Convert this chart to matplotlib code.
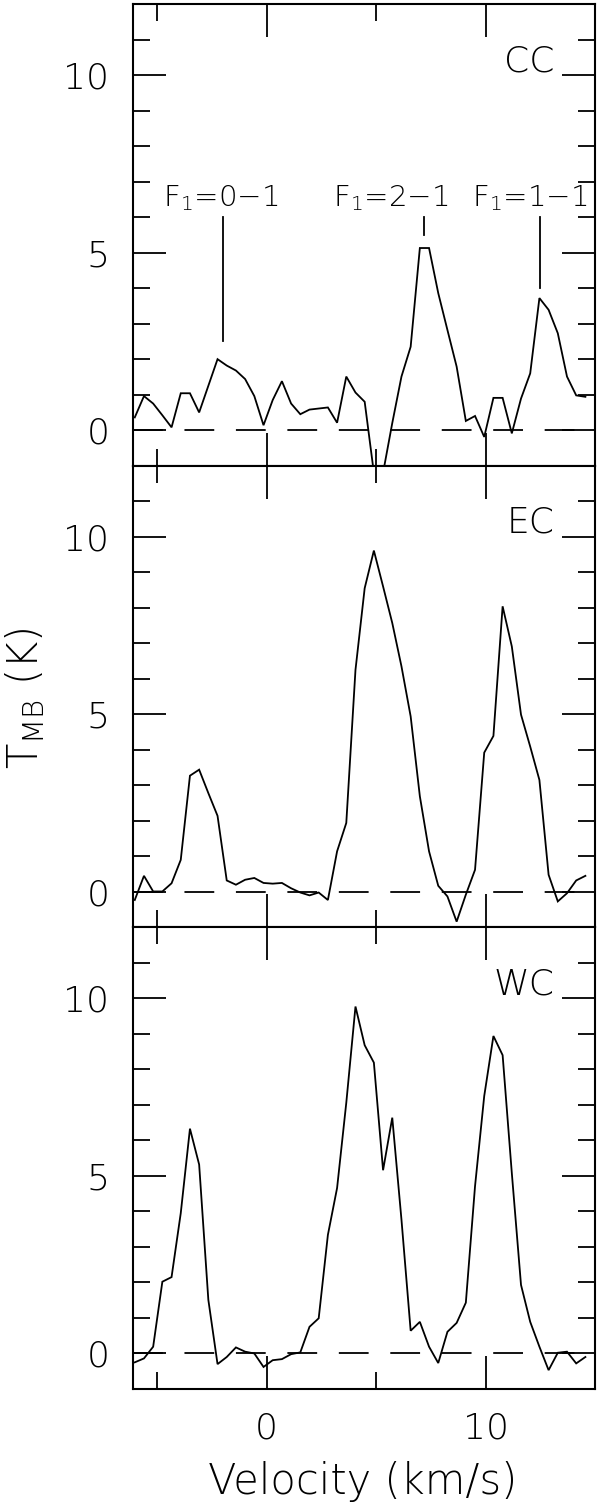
"""
plot.py
-------
Three stacked spectra (CC, EC, WC) with hyperfine component markers.
"""

import matplotlib
matplotlib.use("Agg")
import matplotlib.pyplot as plt
from matplotlib.ticker import MultipleLocator

# ---------------------------------------------------------------------------
# Data
# ---------------------------------------------------------------------------
velocity = [
    -6.02, -5.60, -5.18, -4.76, -4.34, -3.92, -3.50, -3.08, -2.66, -2.24,
    -1.82, -1.40, -0.98, -0.56, -0.14, 0.28, 0.70, 1.12, 1.54, 1.96,
    2.38, 2.80, 3.22, 3.64, 4.06, 4.48, 4.90, 5.32, 5.74, 6.16,
    6.58, 7.00, 7.42, 7.84, 8.26, 8.68, 9.10, 9.52, 9.94, 10.36,
    10.78, 11.20, 11.62, 12.04, 12.46, 12.88, 13.30, 13.72, 14.14, 14.56,
]

tmb_cc = [
    0.36, 0.96, 0.75, 0.42, 0.08, 1.04, 1.04, 0.50, 1.25, 2.00,
    1.82, 1.68, 1.44, 0.96, 0.14, 0.85, 1.38, 0.75, 0.45, 0.58,
    0.61, 0.64, 0.21, 1.51, 1.06, 0.80, -1.20, -1.20, 0.20, 1.51,
    2.35, 5.13, 5.13, 3.86, 2.82, 1.79, 0.26, 0.40, -0.19, 0.91,
    0.91, -0.09, 0.89, 1.60, 3.72, 3.39, 2.73, 1.51, 0.98, 0.94,
]

tmb_ec = [
    -0.23, 0.45, 0.01, 0.01, 0.24, 0.90, 3.27, 3.44, 2.78, 2.14,
    0.32, 0.20, 0.34, 0.39, 0.25, 0.23, 0.25, 0.10, -0.02, -0.10,
    -0.02, -0.23, 1.14, 1.94, 6.25, 8.55, 9.61, 8.60, 7.57, 6.35,
    4.94, 2.69, 1.14, 0.17, -0.13, -0.84, -0.08, 0.62, 3.92, 4.39,
    8.04, 6.91, 4.99, 4.09, 3.15, 0.48, -0.27, -0.04, 0.32, 0.45,
]

tmb_wc = [
    -0.25, -0.14, 0.19, 2.02, 2.15, 3.95, 6.33, 5.32, 1.51, -0.30,
    -0.10, 0.17, 0.05, 0.00, -0.38, -0.19, -0.16, -0.02, 0.03, 0.75,
    0.99, 3.34, 4.66, 7.06, 9.77, 8.68, 8.19, 5.16, 6.64, 3.77,
    0.64, 0.89, 0.19, -0.27, 0.61, 0.86, 1.43, 4.71, 7.25, 8.94,
    8.40, 5.08, 1.93, 0.89, 0.19, -0.47, 0.02, 0.05, -0.28, -0.10,
]

panel_names = ["CC", "EC", "WC"]

# hyperfine component markers (top panel only)
hfs_labels = [r"F$_{\rm 1}$=0$-$1", r"F$_{\rm 1}$=2$-$1", r"F$_{\rm 1}$=1$-$1"]
hfs_vel = [-2.0, 7.2, 12.5]
hfs_bottom = [2.5, 5.5, 4.0]
hfs_top = [6.0, 6.0, 6.0]
hfs_text_vel = [-2.1, 5.65, 12.0]
hfs_text_y = 6.3

# ---------------------------------------------------------------------------
# Style
# ---------------------------------------------------------------------------
plt.rcParams["font.family"] = ["DejaVu Sans"]
plt.rcParams["font.weight"] = "light"
plt.rcParams["mathtext.fontset"] = "custom"
plt.rcParams["mathtext.rm"] = "DejaVu Sans:light"
plt.rcParams["mathtext.it"] = "DejaVu Sans:light"

LW = 1.3
XLIM = (-6.1, 15.0)
YLIM = (-1.0, 12.0)

fig, axes = plt.subplots(3, 1, figsize=(6.0, 15.05), dpi=100, sharex=True,
                         gridspec_kw=dict(hspace=0))
fig.subplots_adjust(left=0.2217, right=0.9917, top=0.9973, bottom=0.0771)

spectra = [tmb_cc, tmb_ec, tmb_wc]
for ax, name, tmb in zip(axes, panel_names, spectra):
    ax.plot(velocity, tmb, color="black", lw=LW, solid_joinstyle="miter")
    ax.axhline(0, color="black", lw=LW, dashes=(16.5, 12.0))
    ax.set_xlim(*XLIM)
    ax.set_ylim(*YLIM)

    ax.xaxis.set_major_locator(MultipleLocator(10))
    ax.xaxis.set_minor_locator(MultipleLocator(5))
    ax.yaxis.set_major_locator(MultipleLocator(5))
    ax.yaxis.set_minor_locator(MultipleLocator(1))
    ax.tick_params(which="both", direction="in", top=True, right=True,
                   width=1.3, labelsize=26, color="black")
    ax.tick_params(which="major", length=24)
    ax.tick_params(which="minor", length=12.5)
    ax.tick_params(axis="y", pad=17)
    ax.tick_params(axis="x", pad=16)
    for sp in ax.spines.values():
        sp.set_linewidth(1.5)

    ax.text(0.913, 0.855, name, transform=ax.transAxes, ha="right",
            va="baseline", fontsize=26, fontweight="light")

# hyperfine markers on the CC panel
ax0 = axes[0]
for lab, v, y0, y1, tv in zip(hfs_labels, hfs_vel, hfs_bottom, hfs_top, hfs_text_vel):
    ax0.plot([v, v], [y0, y1], color="black", lw=LW)
    ax0.text(tv, hfs_text_y, lab, ha="center", va="baseline", fontsize=21)

# y tick labels: only 0, 5, 10 carry labels
for ax in axes:
    ax.set_yticks([0, 5, 10])

fig.text(0.042, 1 - 698 / 1505, r"T$_{\rm MB}$ (K)", rotation=90,
         ha="center", va="center", fontsize=30)
fig.text(0.605, 1 - 1481 / 1505, "Velocity (km/s)", ha="center",
         va="center", fontsize=30)

fig.savefig("out.png", dpi=100)
plt.close(fig)
